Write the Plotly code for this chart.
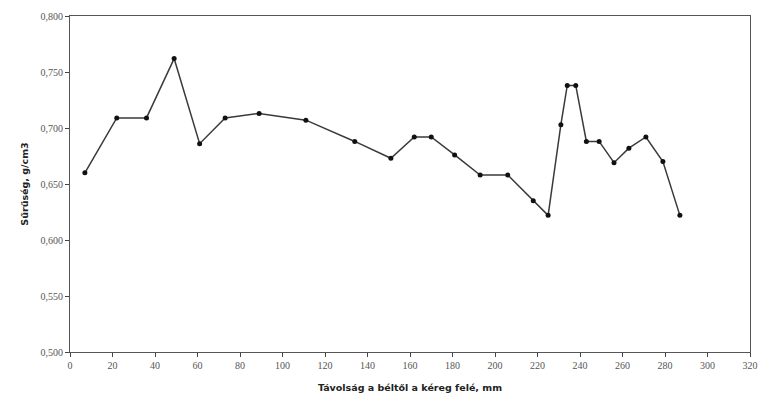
import plotly.graph_objects as go

# Distance from pith towards bark (mm) and measured density (g/cm3)
distance_mm = [7, 22, 36, 49, 61, 73, 89, 111, 134, 151, 162, 170, 181, 193,
               206, 218, 225, 231, 234, 238, 243, 249, 256, 263, 271, 279, 287]
density = [0.660, 0.709, 0.709, 0.762, 0.686, 0.709, 0.713, 0.707, 0.688, 0.673,
           0.692, 0.692, 0.676, 0.658, 0.658, 0.635, 0.622, 0.703, 0.738, 0.738,
           0.688, 0.688, 0.669, 0.682, 0.692, 0.670, 0.622]

x_ticks = list(range(0, 321, 20))
y_tick_vals = [0.50, 0.55, 0.60, 0.65, 0.70, 0.75, 0.80]
y_tick_text = ["0,500", "0,550", "0,600", "0,650", "0,700", "0,750", "0,800"]

fig = go.Figure()
fig.add_trace(go.Scatter(
    x=distance_mm, y=density, mode="lines+markers",
    line=dict(color="#3a3a3a", width=1.5),
    marker=dict(color="#111111", size=5),
    showlegend=False,
))

tick_font = dict(family="Liberation Serif, Times New Roman, serif", size=10, color="#555555")
title_font = dict(family="DejaVu Sans, Verdana, sans-serif", size=9.5, color="#222222")

fig.update_xaxes(
    range=[0, 320], tickvals=x_ticks, ticks="outside", ticklen=4, tickcolor="#444",
    showline=True, linecolor="#555", linewidth=1.2, mirror=True,
    showgrid=False, zeroline=False, tickfont=tick_font, automargin=False,
    title=dict(text="<b>Távolság a béltől a kéreg felé, mm</b>", font=title_font, standoff=14),
)
fig.update_yaxes(
    range=[0.5, 0.8], tickvals=y_tick_vals, ticktext=y_tick_text,
    ticks="outside", ticklen=4, tickcolor="#444",
    showline=True, linecolor="#555", linewidth=1.2, mirror=True,
    showgrid=False, zeroline=False, tickfont=tick_font, automargin=False,
    title=dict(text="<b>Sűrűség, g/cm3</b>", font=title_font, standoff=10),
)
fig.update_layout(
    width=760, height=398,
    margin=dict(l=70, r=10, t=16, b=46),
    paper_bgcolor="white", plot_bgcolor="white",
)
fig.write_html("out.html")
